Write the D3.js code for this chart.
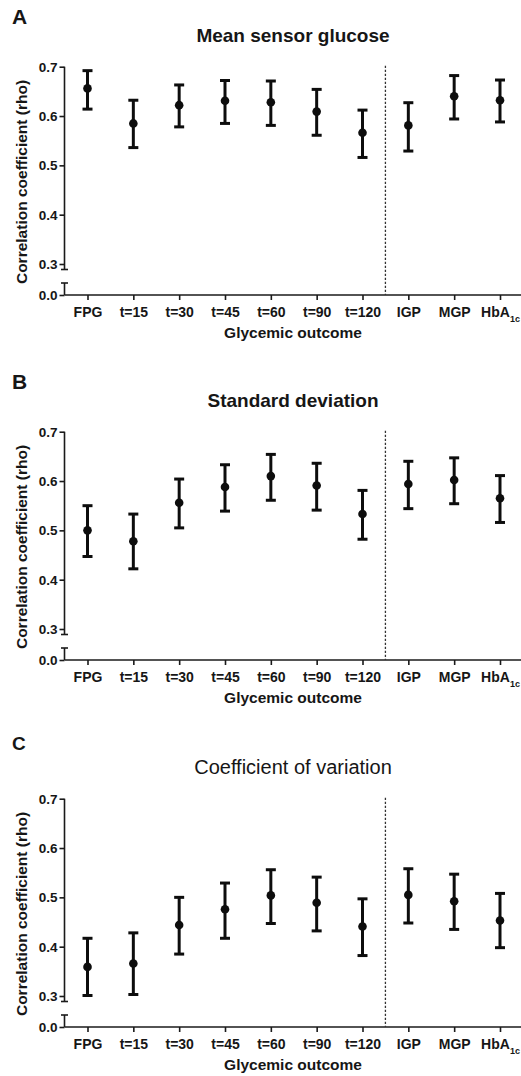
<!DOCTYPE html>
<html>
<head>
<meta charset="utf-8">
<script src="https://cdn.jsdelivr.net/npm/d3@7"></script>
<style>
  body { margin: 0; background: #fff; }
  svg { display: block; }
  text { font-family: "Liberation Sans", Arial, sans-serif; fill: #161616; }
</style>
</head>
<body>
<svg width="521" height="1076"></svg>
<script>
// ---- data ----
var categories = ['FPG', 't=15', 't=30', 't=45', 't=60', 't=90', 't=120', 'IGP', 'MGP', 'HbA1c'];
var yTicks = [0.3, 0.4, 0.5, 0.6, 0.7];

var panelLetters = ['A', 'B', 'C'];
var panelTitles = ['Mean sensor glucose', 'Standard deviation', 'Coefficient of variation'];

// mean sensor glucose
var meanRho = [0.656, 0.585, 0.622, 0.631, 0.628, 0.609, 0.566, 0.581, 0.640, 0.632];
var meanLo  = [0.614, 0.536, 0.578, 0.585, 0.581, 0.561, 0.516, 0.529, 0.594, 0.588];
var meanHi  = [0.692, 0.632, 0.663, 0.672, 0.671, 0.654, 0.612, 0.627, 0.682, 0.673];

// standard deviation
var sdRho = [0.500, 0.478, 0.556, 0.588, 0.610, 0.591, 0.533, 0.594, 0.602, 0.565];
var sdLo  = [0.447, 0.422, 0.505, 0.539, 0.561, 0.541, 0.482, 0.544, 0.554, 0.516];
var sdHi  = [0.550, 0.533, 0.604, 0.633, 0.654, 0.636, 0.581, 0.640, 0.647, 0.611];

// coefficient of variation
var cvRho = [0.359, 0.366, 0.444, 0.476, 0.504, 0.489, 0.441, 0.505, 0.492, 0.453];
var cvLo  = [0.301, 0.303, 0.385, 0.417, 0.447, 0.432, 0.382, 0.448, 0.435, 0.398];
var cvHi  = [0.417, 0.428, 0.500, 0.529, 0.556, 0.541, 0.497, 0.558, 0.547, 0.508];

var series = [
    {rho: meanRho, lo: meanLo, hi: meanHi},
    {rho: sdRho, lo: sdLo, hi: sdHi},
    {rho: cvRho, lo: cvLo, hi: cvHi}
];

// ---- layout ----
var svg = d3.select('svg');
var panelTop = [0, 365, 732];
var letterY = [24, 24, 18];
var letterSize = [21, 21, 19];
var titleWeight = ['bold', 'bold', 'normal'];
var titleSize = [19, 19, 20];
var axisX = 64.5;

var x = d3.scalePoint().domain(categories).range([87.5, 500]);
var yUp = d3.scaleLinear().domain([0.3, 0.7]).range([264, 66.7]);
var yLow = d3.scaleLinear().domain([0, 0.05]).range([295, 280]);

series.forEach(function(s, p) {
    var g = svg.append('g').attr('transform', 'translate(0,' + panelTop[p] + ')');

    // panel letter + title
    g.append('text').attr('x', 12).attr('y', letterY[p])
        .style('font-size', letterSize[p] + 'px').style('font-weight', 'bold')
        .text(panelLetters[p]);
    g.append('text').attr('x', 293).attr('y', 42).attr('text-anchor', 'middle')
        .style('font-size', titleSize[p] + 'px').style('font-weight', titleWeight[p])
        .text(panelTitles[p]);

    // upper y axis
    var upAxis = g.append('g').attr('transform', 'translate(' + axisX + ',0)')
        .call(d3.axisLeft(yUp).tickValues(yTicks).tickFormat(d3.format('.1f')).tickSize(5).tickPadding(2));
    upAxis.select('.domain').remove();
    // lower y axis (only the 0.0 tick)
    var lowAxis = g.append('g').attr('transform', 'translate(' + axisX + ',0)')
        .call(d3.axisLeft(yLow).tickValues([0]).tickFormat(d3.format('.1f')).tickSize(5).tickPadding(2));
    lowAxis.select('.domain').remove();
    g.selectAll('.tick text').style('font-size', '13.5px').style('font-weight', 'bold');

    // broken axis line with caps
    var breakTop = yUp(0.3) + 5.5;
    var breakBottom = yLow(0) - 12;
    g.append('line').attr('x1', axisX).attr('x2', axisX).attr('y1', yUp(0.7)).attr('y2', breakTop);
    g.append('line').attr('x1', axisX).attr('x2', axisX).attr('y1', breakBottom).attr('y2', yLow(0));
    g.append('line').attr('x1', axisX - 3.5).attr('x2', axisX + 3.5).attr('y1', breakTop).attr('y2', breakTop);
    g.append('line').attr('x1', axisX - 3.5).attr('x2', axisX + 3.5).attr('y1', breakBottom).attr('y2', breakBottom);

    // x axis
    var xAxis = g.append('g').attr('transform', 'translate(0,' + yLow(0) + ')')
        .call(d3.axisBottom(x).tickSize(5).tickPadding(7));
    xAxis.select('.domain').remove();
    g.append('line').attr('x1', axisX).attr('x2', 521).attr('y1', yLow(0)).attr('y2', yLow(0));
    xAxis.selectAll('.tick text').style('font-size', '14px').style('font-weight', 'bold')
        .each(function(d) {
            if (d === 'HbA1c') {
                var t = d3.select(this).text('HbA');
                t.append('tspan').attr('baseline-shift', 'sub').style('font-size', '9px').text('1c');
            }
        });

    g.selectAll('line').attr('stroke', '#1a1a1a').attr('stroke-width', 1.6);
    g.selectAll('.tick line').attr('stroke', '#1a1a1a').attr('stroke-width', 1.6);

    // dashed separator between OGTT and other outcomes
    var sepX = (x('t=120') + x('IGP')) / 2;
    g.append('line').attr('x1', sepX).attr('x2', sepX).attr('y1', yUp(0.7) - 1).attr('y2', yLow(0))
        .attr('stroke', '#333').attr('stroke-width', 1.3).attr('stroke-dasharray', '2.2,1.8');

    // axis titles
    g.append('text').attr('transform', 'translate(27,182) rotate(-90)').attr('text-anchor', 'middle')
        .style('font-size', '15.5px').style('font-weight', 'bold')
        .text('Correlation coefficient (rho)');
    g.append('text').attr('x', 293).attr('y', 338).attr('text-anchor', 'middle')
        .style('font-size', '15.5px').style('font-weight', 'bold')
        .text('Glycemic outcome');

    // error bars
    var bars = g.selectAll('.bar').data(categories).enter().append('g').attr('class', 'bar');
    bars.append('line')
        .attr('x1', function(d) { return x(d); }).attr('x2', function(d) { return x(d); })
        .attr('y1', function(d, i) { return yUp(s.lo[i]); }).attr('y2', function(d, i) { return yUp(s.hi[i]); });
    bars.append('line')
        .attr('x1', function(d) { return x(d) - 5; }).attr('x2', function(d) { return x(d) + 5; })
        .attr('y1', function(d, i) { return yUp(s.hi[i]); }).attr('y2', function(d, i) { return yUp(s.hi[i]); });
    bars.append('line')
        .attr('x1', function(d) { return x(d) - 5; }).attr('x2', function(d) { return x(d) + 5; })
        .attr('y1', function(d, i) { return yUp(s.lo[i]); }).attr('y2', function(d, i) { return yUp(s.lo[i]); });
    bars.selectAll('line').attr('stroke', '#0d0d0d').attr('stroke-width', 3);
    bars.append('circle')
        .attr('cx', function(d) { return x(d); })
        .attr('cy', function(d, i) { return yUp(s.rho[i]); })
        .attr('r', 4.3).attr('fill', '#0d0d0d');
});
</script>
</body>
</html>
